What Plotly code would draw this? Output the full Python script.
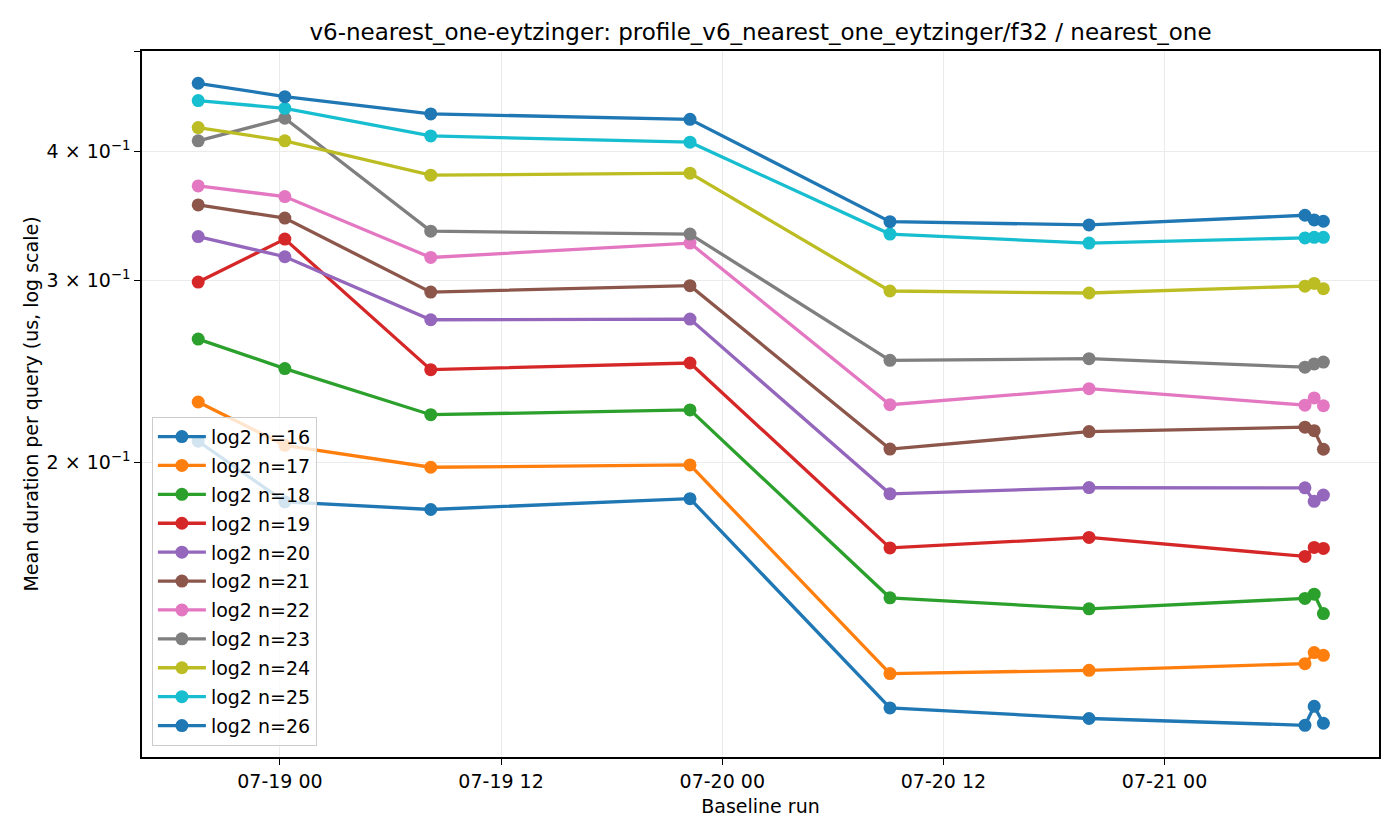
import math
import plotly.graph_objects as go

# ---- data ----
run_times = [
    "2025-07-18 19:34", "2025-07-19 00:16", "2025-07-19 08:11",
    "2025-07-19 22:15", "2025-07-20 09:06", "2025-07-20 19:54",
    "2025-07-21 07:37", "2025-07-21 08:07", "2025-07-21 08:37",
]

series_labels = ["log2 n=16", "log2 n=17", "log2 n=18", "log2 n=19", "log2 n=20", "log2 n=21",
                 "log2 n=22", "log2 n=23", "log2 n=24", "log2 n=25", "log2 n=26"]

n16 = [0.2096, 0.1831, 0.1800, 0.1844, 0.1156, 0.1129, 0.1112, 0.1160, 0.1117]
n17 = [0.2288, 0.2077, 0.1978, 0.1988, 0.1248, 0.1257, 0.1276, 0.1308, 0.1300]
n18 = [0.2633, 0.2465, 0.2224, 0.2248, 0.1478, 0.1442, 0.1476, 0.1490, 0.1427]
n19 = [0.2990, 0.3291, 0.2459, 0.2496, 0.1652, 0.1691, 0.1621, 0.1654, 0.1650]
n20 = [0.3310, 0.3164, 0.2749, 0.2753, 0.1864, 0.1890, 0.1889, 0.1833, 0.1859]
n21 = [0.3552, 0.3449, 0.2924, 0.2966, 0.2060, 0.2142, 0.2163, 0.2146, 0.2059]
n22 = [0.3706, 0.3619, 0.3159, 0.3262, 0.2274, 0.2357, 0.2272, 0.2309, 0.2269]
n23 = [0.4098, 0.4310, 0.3350, 0.3328, 0.2511, 0.2520, 0.2473, 0.2491, 0.2501]
n24 = [0.4221, 0.4098, 0.3796, 0.3813, 0.2931, 0.2918, 0.2963, 0.2981, 0.2946]
n25 = [0.4483, 0.4407, 0.4143, 0.4086, 0.3328, 0.3262, 0.3300, 0.3304, 0.3304]
n26 = [0.4660, 0.4523, 0.4352, 0.4300, 0.3422, 0.3397, 0.3471, 0.3435, 0.3425]

series_values = [n16, n17, n18, n19, n20, n21, n22, n23, n24, n25, n26]

colors = ["#1f77b4", "#ff7f0e", "#2ca02c", "#d62728", "#9467bd", "#8c564b",
          "#e377c2", "#7f7f7f", "#bcbd22", "#17becf", "#1f77b4"]

y_tick_vals = [0.2, 0.3, 0.4, 0.5]
y_tick_text = ["2 × 10<sup>−1</sup>", "3 × 10<sup>−1</sup>", "4 × 10<sup>−1</sup>", ""]

title_text = "v6-nearest_one-eytzinger: profile_v6_nearest_one_eytzinger/f32 / nearest_one"

FONT = "DejaVu Sans"
FS = 19

fig = go.Figure()
for label, vals, col in zip(series_labels, series_values, colors):
    fig.add_trace(go.Scatter(
        x=run_times, y=vals, name=label, mode="lines+markers",
        legendgroup=label,
        line=dict(color=col, width=3.3),
        marker=dict(color=col, size=13),
    ))

fig.update_layout(
    width=1400, height=840,
    paper_bgcolor="white", plot_bgcolor="white",
    margin=dict(l=142, r=21, t=51, b=83),
    font=dict(family=FONT, size=FS, color="black"),
    title=dict(text=title_text, x=0.5, xref="paper", y=1 - 32 / 840, yref="container",
               xanchor="center", yanchor="middle",
               font=dict(family=FONT, size=23, color="black")),
    showlegend=True,
    legend=dict(
        x=0.008, y=0.016, xanchor="left", yanchor="bottom",
        bgcolor="rgba(255,255,255,0.8)", bordercolor="#cccccc", borderwidth=1,
        font=dict(family=FONT, size=FS, color="black"),
        tracegroupgap=1.2, itemwidth=48,
    ),
)

fig.update_xaxes(
    type="date",
    range=["2025-07-18 16:31", "2025-07-21 11:38"],
    tick0="2025-07-19 00:00", dtick=12 * 3600 * 1000,
    tickformat="%m-%d %H",
    ticks="outside", ticklen=6, tickwidth=1.3, tickcolor="black",
    showline=True, linecolor="black", linewidth=1.5, mirror=True,
    showgrid=True, gridcolor="#ebebeb", gridwidth=1.2,
    zeroline=False,
    title=dict(text="Baseline run", standoff=9, font=dict(family=FONT, size=FS)),
    tickfont=dict(family=FONT, size=FS),
)

fig.update_yaxes(
    type="log",
    range=[math.log10(0.1036), math.log10(0.5008)],
    tickmode="array", tickvals=y_tick_vals, ticktext=y_tick_text,
    ticks="outside", ticklen=6, tickwidth=1.3, tickcolor="black",
    showline=True, linecolor="black", linewidth=1.5, mirror=True,
    showgrid=True, gridcolor="#ebebeb", gridwidth=1.2,
    zeroline=False,
    title=dict(text="Mean duration per query (us, log scale)", standoff=3,
               font=dict(family=FONT, size=FS)),
    tickfont=dict(family=FONT, size=FS),
)

fig.write_html("out.html")
